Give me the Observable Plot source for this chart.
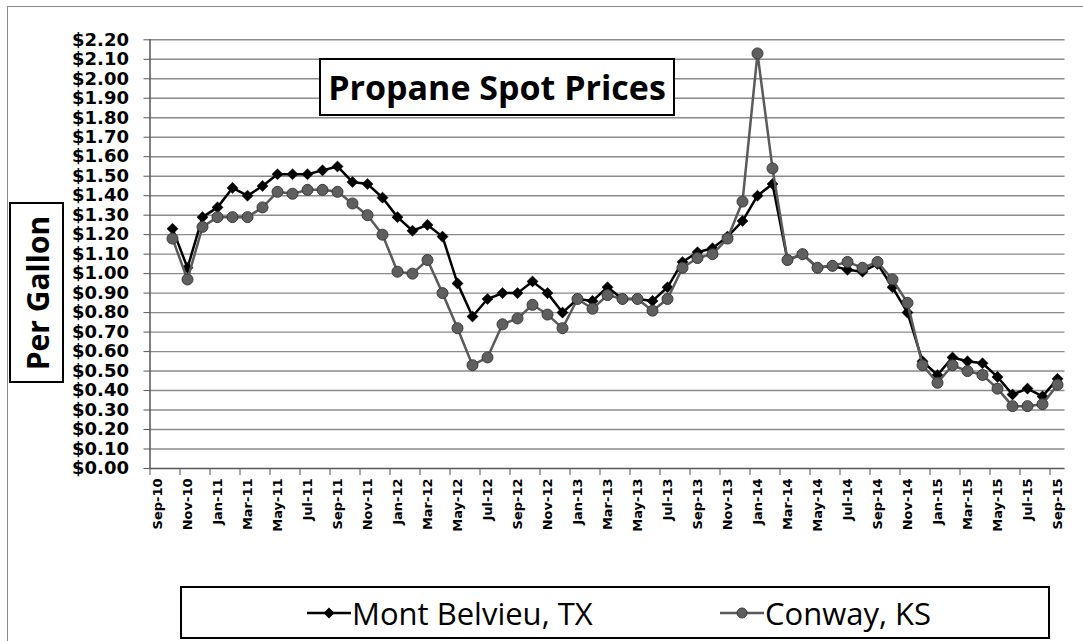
<!DOCTYPE html>
<html>
<head>
<meta charset="utf-8">
<script src="https://cdn.jsdelivr.net/npm/d3@7"></script>
<script src="https://cdn.jsdelivr.net/npm/@observablehq/plot@0.6"></script>
<style>
  html, body { margin: 0; padding: 0; background: #fff; }
  #wrap { position: relative; width: 1083px; height: 641px; overflow: hidden; background: #fff; }
  #frame { position: absolute; left: 7px; top: 6px; width: 1200px; height: 800px; border: 1.5px solid #8a8a8a; box-sizing: border-box; }
  #chart { position: absolute; left: 0; top: 0; }
  #title { position: absolute; left: 319px; top: 58px; width: 356px; height: 58px; box-sizing: border-box;
           border: 2px solid #000; background: #fff; display: flex; align-items: center; justify-content: center;
           font: bold 34px "Open Sans", sans-serif; color: #000; }
  #ylab { position: absolute; left: 9px; top: 202px; width: 55px; height: 181px; box-sizing: border-box;
          border: 2px solid #000; background: #fff; }
  #ylab span { position: absolute; left: 50%; top: 50%; transform: translate(-50%, -50%) rotate(-90deg);
               white-space: nowrap; font: bold 30px "Open Sans", sans-serif; color: #000; }
  #legend { position: absolute; left: 180px; top: 586px; width: 870px; height: 53px; box-sizing: border-box;
            border: 2px solid #000; background: #fff; }
  .item { position: absolute; top: 0; height: 49px; display: flex; align-items: center; }
  .item span { font: 31px "Open Sans", sans-serif; color: #000; margin-left: 1px; }
  .item svg { display: block; }
</style>
</head>
<body>
<div id="wrap">
  <div id="frame"></div>
  <div id="chart"></div>
  <div id="title">Propane Spot Prices</div>
  <div id="ylab"><span>Per Gallon</span></div>
  <div id="legend">
    <div class="item" style="left:125px">
      <svg width="44" height="16"><line x1="0" y1="8" x2="44" y2="8" stroke="#000" stroke-width="2.5"/><path d="M22,2.5L27.5,8L22,13.5L16.5,8Z" fill="#000"/></svg>
      <span>Mont Belvieu, TX</span>
    </div>
    <div class="item" style="left:538px">
      <svg width="44" height="16"><line x1="0" y1="8" x2="44" y2="8" stroke="#5a5a5a" stroke-width="2.5"/><circle cx="22" cy="8" r="5" fill="#5f5f5f" stroke="#3a3a3a"/></svg>
      <span>Conway, KS</span>
    </div>
  </div>
</div>
<script>
const months = ["Sep-10","Oct-10","Nov-10","Dec-10",
  "Jan-11","Feb-11","Mar-11","Apr-11","May-11","Jun-11","Jul-11","Aug-11","Sep-11","Oct-11","Nov-11","Dec-11",
  "Jan-12","Feb-12","Mar-12","Apr-12","May-12","Jun-12","Jul-12","Aug-12","Sep-12","Oct-12","Nov-12","Dec-12",
  "Jan-13","Feb-13","Mar-13","Apr-13","May-13","Jun-13","Jul-13","Aug-13","Sep-13","Oct-13","Nov-13","Dec-13",
  "Jan-14","Feb-14","Mar-14","Apr-14","May-14","Jun-14","Jul-14","Aug-14","Sep-14","Oct-14","Nov-14","Dec-14",
  "Jan-15","Feb-15","Mar-15","Apr-15","May-15","Jun-15","Jul-15","Aug-15","Sep-15"];

const montBelvieu = [null, 1.23, 1.03, 1.29,
  1.34, 1.44, 1.40, 1.45, 1.51, 1.51, 1.51, 1.53, 1.55, 1.47, 1.46, 1.39,
  1.29, 1.22, 1.25, 1.19, 0.95, 0.78, 0.87, 0.90, 0.90, 0.96, 0.90, 0.80,
  0.87, 0.86, 0.93, 0.87, 0.87, 0.86, 0.93, 1.06, 1.11, 1.13, 1.19, 1.27,
  1.40, 1.46, 1.07, 1.10, 1.03, 1.04, 1.02, 1.01, 1.05, 0.93, 0.80, 0.55,
  0.48, 0.57, 0.55, 0.54, 0.47, 0.38, 0.41, 0.37, 0.46];

const conway = [null, 1.18, 0.97, 1.24,
  1.29, 1.29, 1.29, 1.34, 1.42, 1.41, 1.43, 1.43, 1.42, 1.36, 1.30, 1.20,
  1.01, 1.00, 1.07, 0.90, 0.72, 0.53, 0.57, 0.74, 0.77, 0.84, 0.79, 0.72,
  0.87, 0.82, 0.89, 0.87, 0.87, 0.81, 0.87, 1.03, 1.08, 1.10, 1.18, 1.37,
  2.13, 1.54, 1.07, 1.10, 1.03, 1.04, 1.06, 1.03, 1.06, 0.97, 0.85, 0.53,
  0.44, 0.53, 0.50, 0.48, 0.41, 0.32, 0.32, 0.33, 0.43];

const yTicks = d3.range(0, 23).map(k => k / 10);

const idx = months.map((m, i) => i);
const labelIdx = idx.filter(i => i % 2 === 0);
const tickBounds = labelIdx.map(i => i - 0.5);

const mbData = idx.map(i => ({i, v: montBelvieu[i]})).filter(d => d.v != null);
const cwData = idx.map(i => ({i, v: conway[i]})).filter(d => d.v != null);

const chart = Plot.plot({
  width: 1083,
  height: 641,
  marginLeft: 149.5,
  marginRight: 18.5,
  marginTop: 39.3,
  marginBottom: 173,
  style: {background: "transparent", color: "#000", overflow: "visible"},
  x: {domain: [-0.5, 60.5]},
  y: {domain: [0, 2.2]},
  marks: [
    Plot.ruleY(yTicks.filter(t => t > 0), {stroke: "#8a8a8a", strokeWidth: 1.4}),
    Plot.ruleX([-0.5], {stroke: "#555", strokeWidth: 1.5}),
    Plot.ruleY([0], {stroke: "#555", strokeWidth: 1.5}),
    Plot.axisY({ticks: yTicks, tickSize: 6, tickPadding: 15, tickFormat: d => "$" + d.toFixed(2), stroke: "#555", label: null,
                fontFamily: "DejaVu Sans", fontWeight: "bold", fontSize: 18}),
    Plot.axisX({ticks: tickBounds, tickSize: 7, tickFormat: () => "", stroke: "#555", label: null}),
    Plot.text(labelIdx, {
      x: d => d, frameAnchor: "bottom", dy: 10, rotate: -90,
      text: i => months[i], textAnchor: "end", lineAnchor: "middle",
      fontFamily: "DejaVu Sans", fontWeight: "bold", fontSize: 13, fill: "#000"
    }),
    Plot.line(mbData, {x: "i", y: "v", stroke: "#000", strokeWidth: 2.5}),
    Plot.dot(mbData, {x: "i", y: "v", symbol: "diamond2", r: 5, fill: "#000", stroke: "#000", strokeWidth: 0.5}),
    Plot.line(cwData, {x: "i", y: "v", stroke: "#5a5a5a", strokeWidth: 2.5}),
    Plot.dot(cwData, {x: "i", y: "v", r: 5.5, fill: "#5f5f5f", stroke: "#3a3a3a", strokeWidth: 1})
  ]
});
document.getElementById("chart").appendChild(chart);
</script>
</body>
</html>
